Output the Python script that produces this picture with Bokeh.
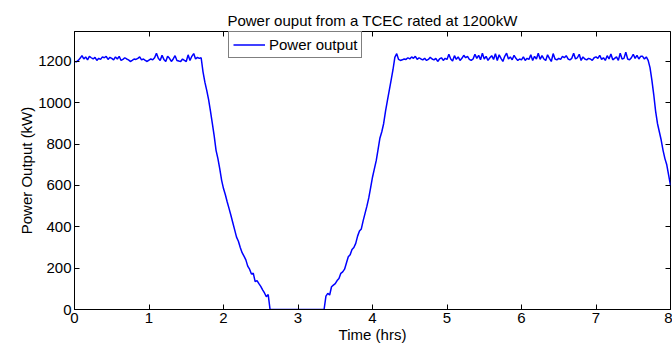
import numpy as np
from bokeh.plotting import figure
from bokeh.models import LinearAxis, Range1d, Legend, LegendItem, FixedTicker, ColumnDataSource
from bokeh.embed import file_html
from bokeh.resources import INLINE

title_text = "Power ouput from a TCEC rated at 1200kW"
x_label = "Time (hrs)"
y_label = "Power Output (kW)"
series_name = "Power output"
x_ticks = [0, 1, 2, 3, 4, 5, 6, 7, 8]
y_ticks = [0, 200, 400, 600, 800, 1000, 1200]

flat_a = [1200, 1198, 1205, 1215, 1228, 1212, 1222, 1208, 1225, 1218,
          1212, 1220, 1205, 1215, 1210, 1222, 1218, 1225, 1210, 1220,
          1215, 1208, 1222, 1212, 1225, 1205, 1210, 1218, 1212, 1208,
          1200, 1205, 1212, 1210, 1215, 1222, 1208, 1212, 1205, 1200,
          1206, 1212, 1208, 1218, 1240, 1215, 1205, 1230, 1210, 1200,
          1225, 1215, 1200, 1212, 1228, 1205, 1202, 1200, 1212, 1205,
          1200, 1232, 1205, 1225, 1238, 1212, 1220, 1215]
descent = [1218, 1150, 1100, 1060, 1015, 960, 900, 840, 770, 730,
           680, 625, 585, 555, 520, 488, 455, 420, 385, 350,
           330, 300, 275, 258, 240, 210, 195, 172, 175, 135,
           140, 125, 112, 95, 80, 62, 72]
slack = [0] * 30
rise = [65, 78, 70, 110, 118, 125, 140, 150, 175, 182,
        195, 225, 255, 265, 290, 300, 320, 355, 380, 390,
        430, 465, 500, 540, 590, 640, 680, 720, 775, 830,
        860, 900, 960, 1010, 1060, 1110, 1160, 1220, 1238, 1210]
flat_b = [1205, 1208, 1212, 1210, 1218, 1212, 1222, 1215, 1225, 1210,
          1218, 1212, 1208, 1215, 1205, 1210, 1220, 1212, 1208, 1215,
          1200, 1212, 1218, 1205, 1215, 1210, 1235, 1212, 1202, 1228,
          1210, 1222, 1205, 1215, 1230, 1218, 1225, 1210, 1205, 1212,
          1235, 1215, 1230, 1208, 1240, 1212, 1225, 1205, 1218, 1228,
          1210, 1238, 1205, 1232, 1215, 1200, 1225, 1240, 1212, 1222,
          1208, 1230, 1215, 1205, 1212, 1208, 1222, 1205, 1215, 1210,
          1232, 1205, 1225, 1212, 1240, 1210, 1228, 1212, 1205, 1232,
          1215, 1200, 1238, 1212, 1208, 1215, 1210, 1225, 1218, 1228,
          1212, 1208, 1215, 1240, 1212, 1218, 1235, 1205, 1222, 1212,
          1208, 1215, 1212, 1205, 1218, 1222, 1215, 1230, 1210, 1218,
          1205, 1228, 1212, 1236, 1208, 1215, 1222, 1205, 1240, 1212,
          1215, 1245, 1212, 1208, 1218, 1235, 1215, 1230, 1212, 1225,
          1225, 1212, 1222]
fall = [1205, 1170, 1110, 1040, 960, 900, 860, 820, 770, 730, 700, 650, 600]

power = flat_a + descent + slack + rise + flat_b + fall
time = np.linspace(0, 8, len(power))
src = ColumnDataSource(dict(t=time, p=power))

FONT = "Liberation Sans"
FS = "15px"

p = figure(width=672, height=347, output_backend="svg", toolbar_location=None,
           x_range=Range1d(0, 8), y_range=Range1d(0, 1345),
           min_border_left=74, min_border_right=2, min_border_top=31, min_border_bottom=38)
p.title.text = title_text
p.title.align = "center"
p.title.text_font = FONT
p.title.text_font_size = FS
p.title.text_font_style = "normal"
p.title.text_color = "black"
p.title.standoff = 6
p.title.offset = 0

p.grid.visible = False
p.background_fill_color = "white"
p.border_fill_color = "white"
p.outline_line_color = "black"
p.outline_line_width = 1
p.outline_line_alpha = 1

r = p.line("t", "p", source=src, line_color="#0000ff", line_width=1.5)

for ax in (p.xaxis[0], p.yaxis[0]):
    ax.major_label_text_font = FONT
    ax.major_label_text_font_size = FS
    ax.major_label_text_color = "black"
    ax.axis_label_text_font = FONT
    ax.axis_label_text_font_size = FS
    ax.axis_label_text_font_style = "normal"
    ax.axis_label_text_color = "black"
    ax.axis_line_color = "black"
    ax.major_tick_in = 5
    ax.major_tick_out = 0
    ax.minor_tick_line_color = None
    ax.major_tick_line_color = "black"
    ax.major_label_standoff = 3
    ax.axis_label_standoff = 0

p.xaxis[0].ticker = FixedTicker(ticks=x_ticks)
p.yaxis[0].ticker = FixedTicker(ticks=y_ticks)
p.xaxis[0].axis_label = x_label
p.yaxis[0].axis_label = y_label

top = LinearAxis(ticker=FixedTicker(ticks=x_ticks), major_label_text_font_size="0px",
                 major_tick_in=5, major_tick_out=0, minor_tick_line_color=None,
                 axis_line_color=None, major_label_standoff=0)
right = LinearAxis(ticker=FixedTicker(ticks=y_ticks), major_label_text_font_size="0px",
                   major_tick_in=5, major_tick_out=0, minor_tick_line_color=None,
                   axis_line_color=None, major_label_standoff=0)
p.add_layout(top, "above")
p.add_layout(right, "right")

legend = Legend(items=[LegendItem(label=series_name, renderers=[r])],
                location=(154, 251), orientation="vertical",
                label_text_font=FONT, label_text_font_size=FS, label_text_color="black",
                border_line_color="black", border_line_width=1,
                background_fill_alpha=1, padding=4, spacing=0, margin=0,
                glyph_width=32, glyph_height=17, label_standoff=4, label_height=17)
p.add_layout(legend, "center")

open("out.html", "w").write(file_html(p, INLINE))
